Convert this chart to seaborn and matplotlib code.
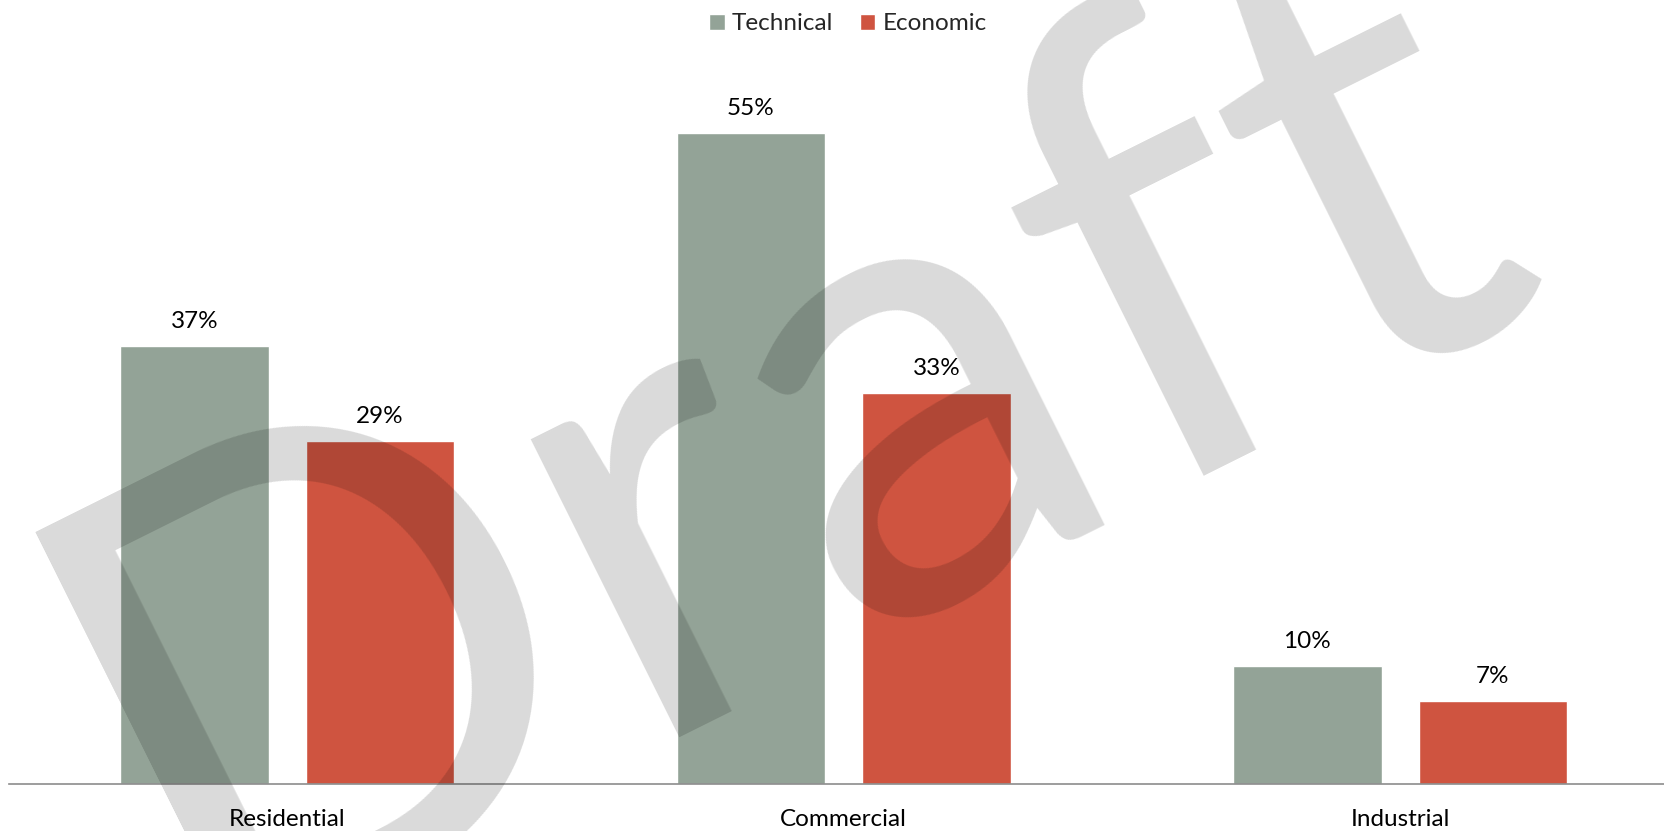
import matplotlib
matplotlib.use("Agg")
import matplotlib.pyplot as plt
import pandas as pd
import seaborn as sns

# Share of savings potential by sector
sectors = ["Residential", "Commercial", "Industrial"]
technical = [37, 55, 10]
economic = [29, 33, 7]
series_names = ["Technical", "Economic"]
series_colors = ["#93A397", "#CF5440"]

df = pd.DataFrame({
    "Sector": sectors * 2,
    "Measure": [series_names[0]] * len(sectors) + [series_names[1]] * len(sectors),
    "Value": technical + economic,
})

sns.set_theme(style="white")
plt.rcParams["font.family"] = ["Lato", "DejaVu Sans"]

W, H = 1665, 831
FS = 17.5
fig = plt.figure(figsize=(W / 100, H / 100), dpi=100)
ax = fig.add_axes([9 / W, 47 / H, 1 - 9 / W, 784 / H])

sns.barplot(
    data=df, x="Sector", y="Value", hue="Measure",
    hue_order=series_names, order=sectors,
    palette=series_colors, saturation=1,
    width=0.667, gap=0.2, ax=ax, legend=True,
)

ax.set_xlim(-0.5, 2.476)
ax.set_ylim(0, 66.2)
ax.set_xlabel("")
ax.set_ylabel("")
ax.set_yticks([])
for side in ["left", "right", "top"]:
    ax.spines[side].set_visible(False)
ax.spines["bottom"].set_color("#8C8C8C")
ax.spines["bottom"].set_linewidth(1.2)
ax.tick_params(axis="x", length=0, pad=18, labelsize=FS, labelcolor="black")

for container in ax.containers:
    vals = container.datavalues
    ax.bar_label(container, labels=[f"{v:.0f}%" for v in vals],
                 padding=10, fontsize=FS, color="black")

handles, labels = ax.get_legend_handles_labels()
ax.get_legend().remove()
fig.legend(handles, labels, loc="center", bbox_to_anchor=(848 / W, 1 - 24 / H),
           ncol=2, frameon=False, fontsize=FS, handlelength=0.62,
           handleheight=0.62, handletextpad=0.3, columnspacing=1.1)

# Watermark across the plot
fig.text(186 / W, 1 - 954 / H, "Draft", fontsize=472, color="black", alpha=0.15,
         rotation=26.5, rotation_mode="anchor", ha="left", va="baseline",
         family=["Lato", "DejaVu Sans"], zorder=10)

fig.savefig("out.png", dpi=100)
